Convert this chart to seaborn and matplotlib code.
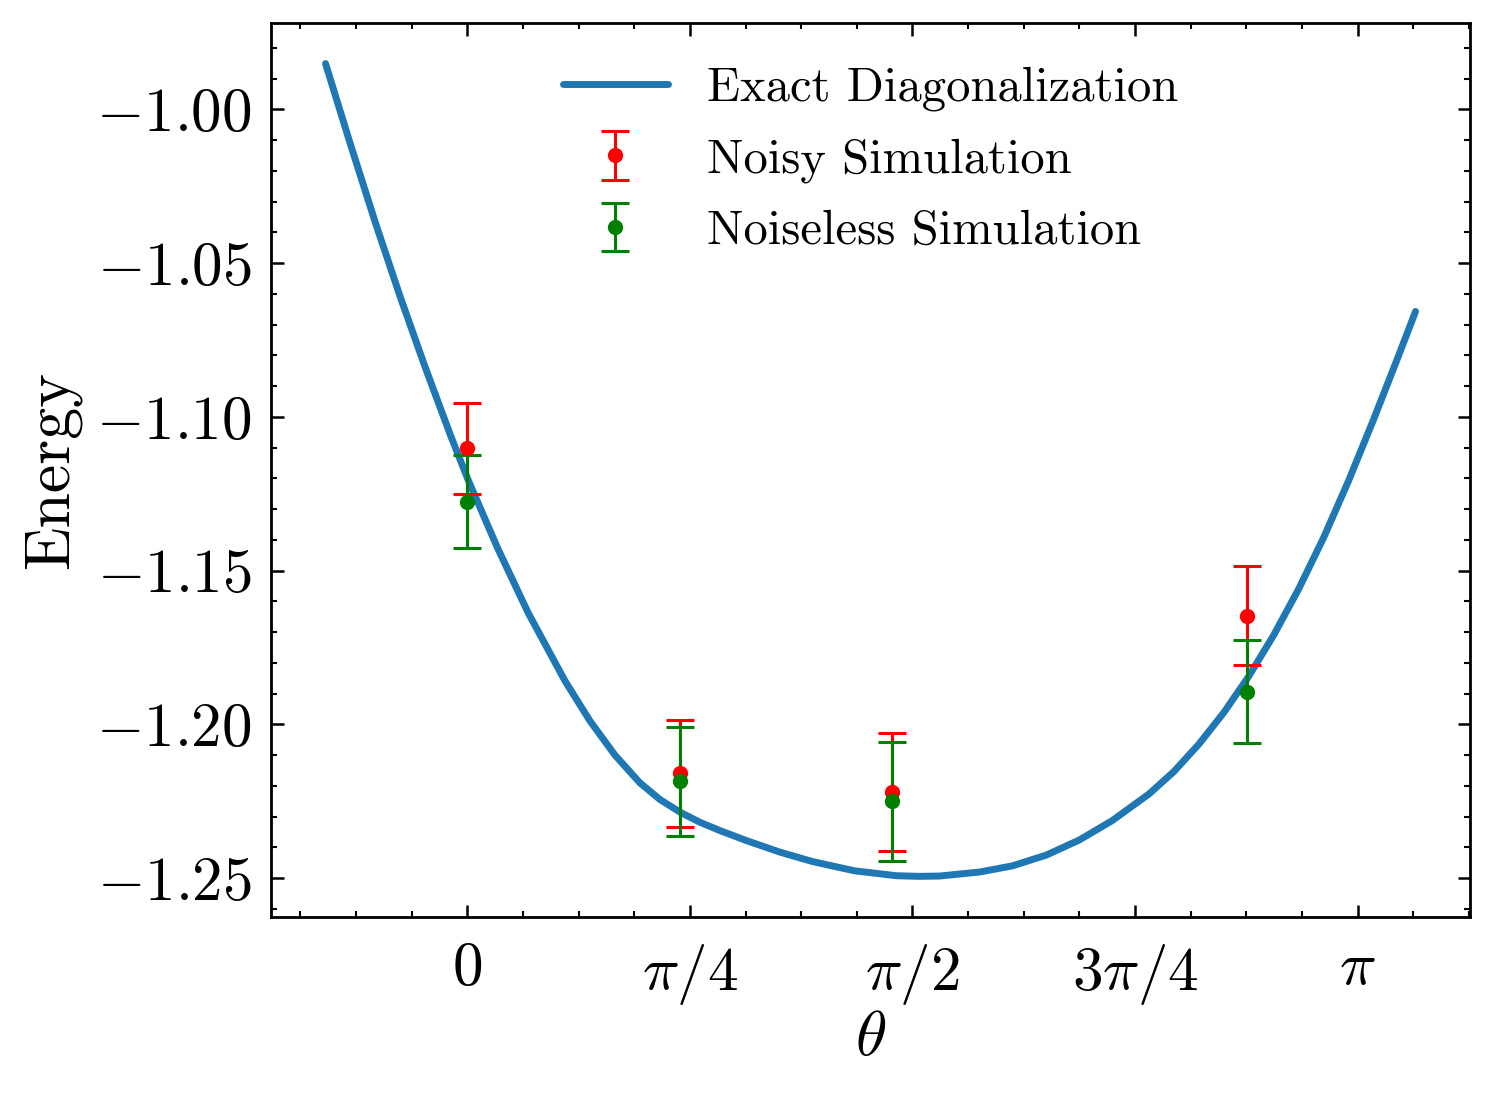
import numpy as np
import pandas as pd
import matplotlib
matplotlib.use("Agg")
import matplotlib.pyplot as plt
import seaborn as sns
from matplotlib.ticker import MultipleLocator

# ---- data ----
ed_theta = [-0.5001, -0.4121, -0.3240, -0.2360, -0.1479, -0.0599, 0.0035, 0.1057, 0.2148,
            0.3451, 0.4332, 0.5212, 0.6093, 0.6797, 0.7502, 0.8206, 0.8910, 0.9861, 1.1024,
            1.2186, 1.3665, 1.5144, 1.5954, 1.6659, 1.8067, 1.9230, 2.0427, 2.1589, 2.2751,
            2.4055, 2.4935, 2.5815, 2.6696, 2.7576, 2.8457, 2.9337, 3.0218, 3.1098, 3.1979,
            3.2859, 3.3458]
ed_energy = [-0.9851, -1.0114, -1.0369, -1.0611, -1.0840, -1.1058, -1.1206, -1.1424, -1.1637,
             -1.1859, -1.1989, -1.2100, -1.2190, -1.2244, -1.2285, -1.2318, -1.2345, -1.2378, -1.2415,
             -1.2446, -1.2476, -1.2492, -1.2494, -1.2493, -1.2480, -1.2460, -1.2425, -1.2376, -1.2313,
             -1.2226, -1.2153, -1.2064, -1.1961, -1.1843, -1.1709, -1.1559, -1.1392, -1.1207, -1.1008,
             -1.0801, -1.0657]

sim_theta = [0.0, 0.750, 1.500, 2.751]
noisy_energy = [-1.1102, -1.2159, -1.2221, -1.1646]
noisy_err = [0.0147, 0.0174, 0.0192, 0.0160]
noiseless_energy = [-1.1275, -1.2185, -1.2250, -1.1893]
noiseless_err = [0.0150, 0.0177, 0.0193, 0.0166]

xtick_pos = [0, np.pi / 4, np.pi / 2, 3 * np.pi / 4, np.pi]
xtick_labels = [r"$0$", r"$\pi/4$", r"$\pi/2$", r"$3\pi/4$", r"$\pi$"]

# ---- style ----
sns.set_theme(style="ticks")
plt.rcParams.update({
    "font.family": "serif",
    "font.serif": ["cmr10"],
    "mathtext.fontset": "cm",
    "axes.formatter.use_mathtext": True,
    "axes.unicode_minus": False,
    "text.color": "black",
    "axes.labelcolor": "black",
    "axes.edgecolor": "black",
    "xtick.color": "black",
    "ytick.color": "black",
    "axes.linewidth": 2.0,
    "xtick.direction": "in",
    "ytick.direction": "in",
    "xtick.top": True,
    "ytick.right": True,
    "xtick.major.size": 9,
    "ytick.major.size": 9,
    "xtick.minor.size": 4.5,
    "ytick.minor.size": 4.5,
    "xtick.major.width": 1.8,
    "ytick.major.width": 1.8,
    "xtick.minor.width": 1.5,
    "ytick.minor.width": 1.5,
})

fig = plt.figure(figsize=(14.95, 10.94), dpi=100)
ax = fig.add_axes([0.1813, 0.1618, 0.8020, 0.8172])

df = pd.DataFrame({"theta": ed_theta, "energy": ed_energy})
sns.lineplot(data=df, x="theta", y="energy", ax=ax, color="#1f77b4", linewidth=5,
             label="Exact Diagonalization", sort=False, solid_joinstyle="round")

ax.errorbar(sim_theta, noisy_energy, yerr=noisy_err, fmt="o", color="red", markersize=10,
            elinewidth=2.2, capsize=10, capthick=2.2, label="Noisy Simulation")
ax.errorbar(sim_theta, noiseless_energy, yerr=noiseless_err, fmt="o", color="green", markersize=10,
            elinewidth=2.2, capsize=10, capthick=2.2, label="Noiseless Simulation")

ax.set_xticks(xtick_pos)
ax.set_xticklabels(xtick_labels)
ax.xaxis.set_minor_locator(MultipleLocator(np.pi / 16))
ax.yaxis.set_major_locator(MultipleLocator(0.05))
ax.yaxis.set_minor_locator(MultipleLocator(0.01))
ax.tick_params(axis="both", which="both", labelsize=44, pad=14)
ax.tick_params(axis="x", which="major", pad=18)

ax.set_xlabel(r"$\theta$", fontsize=46, labelpad=2)
ax.set_ylabel("Energy", fontsize=46, labelpad=11)

ax.legend(loc="upper center", bbox_to_anchor=(0.5, 1.0), frameon=False, fontsize=35,
          handlelength=2.15, handletextpad=0.8, labelspacing=0.55)

fig.savefig("out.png", dpi=100)
